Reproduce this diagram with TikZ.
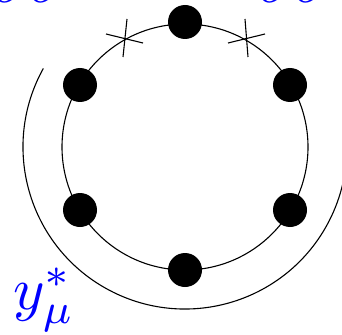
\documentclass[tikz,border=0pt]{standalone}
\begin{document}
\begin{tikzpicture}[x=1pt,y=-1pt,
  ln/.style={line width=1.1pt,black},
  dot/.style={circle,fill=black,inner sep=0pt,minimum size=34pt},
  lab/.style={text=blue,inner sep=0pt,scale=6}]
\useasboundingbox (0,0) rectangle (342,334);
\coordinate (c) at (185,147);
\draw[ln] (c) circle[radius=123];
\draw[ln] (c) ++({cos(151)*162},{-sin(151)*162}) arc[start angle=-151, end angle=-360, radius=162];
\node[dot] (t) at (185,22) {};
\node[dot] (ul) at (80,85) {};
\node[dot] (ur) at (290,85) {};
\node[dot] (ll) at (80,210) {};
\node[dot] (lr) at (290,210) {};
\node[dot] (b) at (185,270) {};
\draw[ln] (106,34) -- (143,43);
\draw[ln] (127,19) -- (123,57);
\draw[ln] (228,43) -- (265,34);
\draw[ln] (245,19) -- (248,57);
\node[lab,anchor=base] (y) at (44,309) {$y^*_\mu$};
\node[lab,anchor=base] (s1) at (30,3) {$\sigma\sigma$};
\node[lab,anchor=base] (s2) at (295,3) {$\sigma\sigma$};
\end{tikzpicture}
\end{document}
